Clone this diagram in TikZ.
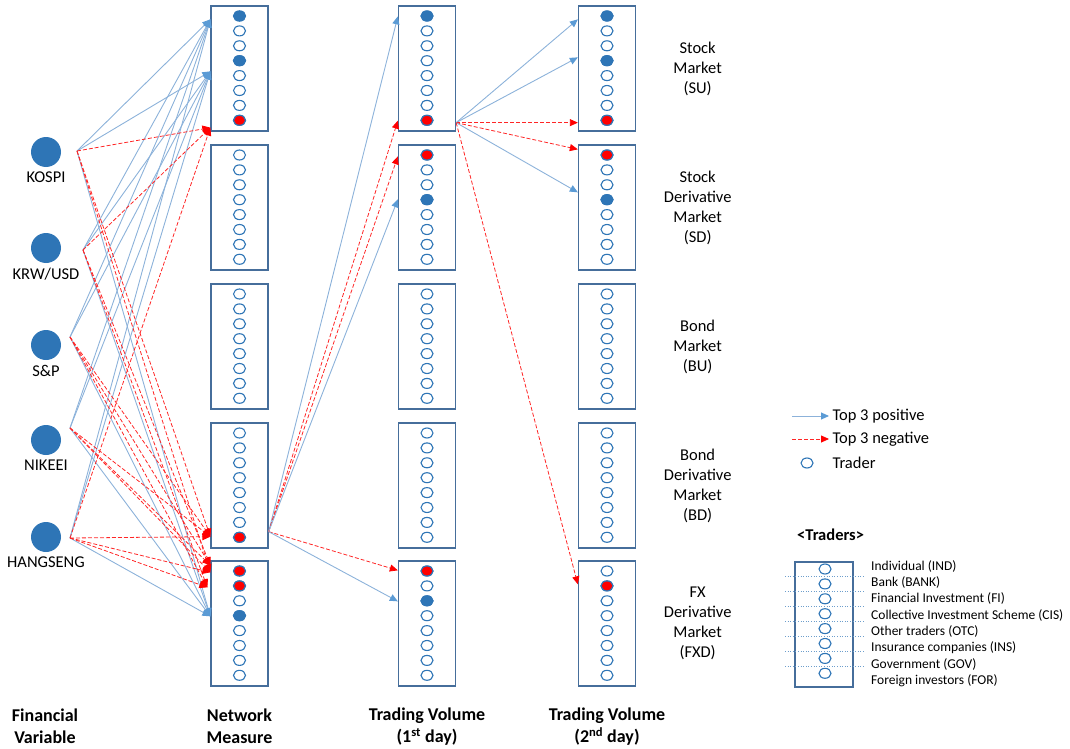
\documentclass[tikz,border=0pt]{standalone}
\usepackage{fontspec}
\setmainfont{Carlito}
\usepackage{tikz}
\usetikzlibrary{arrows.meta,positioning,calc,shapes.geometric}
\definecolor{boxline}{RGB}{70,110,155}
\definecolor{trblue}{RGB}{46,117,182}
\definecolor{posline}{RGB}{140,178,218}
\definecolor{postip}{RGB}{91,155,213}
\tikzset{
  >=Stealth,
  mbox/.style={rectangle, draw=boxline, line width=1.3pt, fill=white, minimum width=57pt, minimum height=125pt, inner sep=0pt},
  trader/.style={ellipse, draw=trblue, line width=1.1pt, fill=white, minimum width=12pt, minimum height=10pt, inner sep=0pt},
  src/.style={circle, fill=trblue, minimum size=30pt, inner sep=0pt},
  posarr/.style={draw=posline, line width=0.9pt, -{Triangle[length=8pt,width=7pt,color=postip]}},
  negarr/.style={draw=red!85, line width=0.8pt, dash pattern=on 4pt off 2pt, -{Triangle[length=8pt,width=7pt,color=red]}},
  lbl/.style={font=\fontsize{16.5}{20}\selectfont, align=center},
  blbl/.style={font=\fontsize{18}{22}\selectfont\bfseries, align=center},
  klbl/.style={font=\fontsize{13.5}{15}\selectfont, anchor=west, inner sep=0pt}
}
\begin{document}
\begin{tikzpicture}[x=1pt, y=-1pt]
    \useasboundingbox (0,0) rectangle (1070,749);

    % Market boxes with traders
    \foreach \c/\cx in {nm/239.5, d1/427, d2/607} {
        \foreach \r/\ry in {su/6, sd/145, bu/284, bd/423, fxd/561} {
            \node[mbox] (\c-\r) at (\cx, \ry+62.5) {};
            \foreach \i in {1,...,8}
                \node[trader] (\c-\r-\i) at (\cx, {\ry+10+14.9*(\i-1)}) {};
        }
    }
    \foreach \n in {nm-su-1, nm-su-4, nm-fxd-4, d1-su-1, d1-sd-4, d1-fxd-3, d2-su-1, d2-su-4, d2-sd-4}
        \node[trader, fill=trblue] (\n-on) at (\n) {};
    \foreach \n in {nm-su-8, nm-bd-8, nm-fxd-1, nm-fxd-2, d1-su-8, d1-sd-1, d1-fxd-1, d2-su-8, d2-sd-1, d2-fxd-2}
        \node[trader, fill=red] (\n-on) at (\n) {};

    % Financial variables
    \node[src] (kospi) at (46,152) {};
    \node[src] (krw) at (46,248) {};
    \node[src] (sp) at (46,345) {};
    \node[src] (nikkei) at (46,440) {};
    \node[src] (hang) at (46,537) {};
    \node[lbl, below=1pt of kospi] (kospi-l) {KOSPI};
    \node[lbl, below=1pt of krw] (krw-l) {KRW/USD};
    \node[lbl, below=1pt of sp] (sp-l) {S\&P};
    \node[lbl, below=1pt of nikkei] (nikkei-l) {NIKEEI};
    \node[lbl, below=1pt of hang] (hang-l) {HANGSENG};

    \coordinate (kospi-o) at ($(kospi.center)+(31,-1)$);
    \coordinate (krw-o) at ($(krw.center)+(37,2)$);
    \coordinate (sp-o) at ($(sp.center)+(24,-8)$);
    \coordinate (nikkei-o) at ($(nikkei.center)+(24,-12)$);
    \coordinate (hang-o) at ($(hang.center)+(24,1)$);

    % Ends on network measure
    \coordinate (t1) at ($(nm-su.north west)+(0,14)$);
    \coordinate (t2) at ($(nm-su.north west)+(0,66)$);
    \coordinate (t3) at ($(nm-su.south west)+(0,-4)$);
    \coordinate (t4) at ($(nm-bd.south west)+(0,-12)$);
    \coordinate (t5) at ($(nm-fxd.north west)+(0,5)$);
    \coordinate (t6) at ($(nm-fxd.north west)+(0,12)$);
    \coordinate (t7) at ($(nm-fxd.north west)+(-3,27)$);
    \coordinate (t8) at ($(nm-fxd.north west)+(0,56)$);

    \foreach \s in {kospi, krw, sp, nikkei, hang}
        \foreach \t in {t1, t2, t8}
            \draw[posarr] (\s-o) -- (\t);
    \foreach \s/\t in {kospi/t3, kospi/t4, kospi/t6, krw/t3, krw/t5, krw/t7, sp/t4, sp/t5, sp/t7,
                       nikkei/t4, nikkei/t5, nikkei/t6, hang/t3, hang/t4, hang/t6, hang/t7}
        \draw[negarr] (\s-o) -- (\t);

    % Network measure -> 1st day
    \coordinate (nm-o) at ($(nm-bd.south east)+(0,-17)$);
    \draw[posarr] (nm-o) -- ($(d1-su.north west)+(0,11)$);
    \draw[negarr] (nm-o) -- ($(d1-su.south west)+(0,-11)$);
    \draw[negarr] (nm-o) -- ($(d1-sd.north west)+(0,12)$);
    \draw[posarr] (nm-o) -- ($(d1-sd.north west)+(0,55)$);
    \draw[negarr] (nm-o) -- ($(d1-fxd.north west)+(0,10)$);
    \draw[posarr] (nm-o) -- ($(d1-fxd.north west)+(0,41)$);

    % 1st day -> 2nd day
    \coordinate (d1-o) at ($(d1-su.south east)+(0,-9)$);
    \draw[posarr] (d1-o) -- ($(d2-su.north west)+(0,14)$);
    \draw[posarr] (d1-o) -- ($(d2-su.north west)+(0,52)$);
    \draw[negarr] (d1-o) -- ($(d2-su.south west)+(0,-9)$);
    \draw[negarr] (d1-o) -- ($(d2-sd.north west)+(0,5)$);
    \draw[posarr] (d1-o) -- ($(d2-sd.north west)+(0,48)$);
    \draw[negarr] (d1-o) -- ($(d2-fxd.north west)+(0,24)$);

    % Market names
    \node[lbl] (su-l) at ([xshift=61.5pt]d2-su.east) {Stock\\Market\\(SU)};
    \node[lbl] (sd-l) at ([xshift=61.5pt]d2-sd.east) {Stock\\Derivative\\Market\\(SD)};
    \node[lbl] (bu-l) at ([xshift=61.5pt]d2-bu.east) {Bond\\Market\\(BU)};
    \node[lbl] (bd-l) at ([xshift=61.5pt]d2-bd.east) {Bond\\Derivative\\Market\\(BD)};
    \node[lbl] (fxd-l) at ([xshift=61.5pt]d2-fxd.east) {FX\\Derivative\\Market\\(FXD)};

    % Legend
    \node[lbl, anchor=west] (lg-pos) at (829,416) {Top 3 positive};
    \node[lbl, anchor=west] (lg-neg) at (829,439) {Top 3 negative};
    \node[lbl, anchor=west] (lg-tr) at (829,463) {Trader};
    \coordinate (lg-pa) at (792,416);
    \coordinate (lg-na) at (792,439);
    \draw[posarr] (lg-pa) -- (lg-pos.west);
    \draw[negarr] (lg-na) -- (lg-neg.west);
    \node[trader] (lg-c) at (807,463) {};

    % Trader key
    \node[lbl, font=\fontsize{16.5}{20}\selectfont\bfseries, anchor=west, inner sep=0pt] (key-t) at (797,535) {<Traders>};
    \node[mbox, fill=none, line width=1.1pt, minimum width=58pt] (key) at (824,624.5) {};
    \foreach \i in {1,...,7}
        \draw[trblue!70, dotted, line width=0.6pt] (785, {576.5+15*(\i-1)}) -- (865, {576.5+15*(\i-1)});
    \foreach \i in {1,...,8}
        \node[trader] (key-\i) at (825, {569+14.9*(\i-1)}) {};
    \foreach \i/\txt in {1/Individual (IND), 2/Bank (BANK), 3/Financial Investment (FI),
                         4/Collective Investment Scheme (CIS), 5/Other traders (OTC),
                         6/Insurance companies (INS), 7/Government (GOV), 8/Foreign investors (FOR)}
        \node[klbl] (key-l\i) at (871, {566+16.4*(\i-1)}) {\txt};

    % Column captions
    \node[blbl] (cap-fv) at (45,726) {Financial\\Variable};
    \node[blbl] (cap-nm) at ($(nm-fxd.south)+(0,40)$) {Network\\Measure};
    \node[blbl] (cap-d1) at ($(d1-fxd.south)+(0,40)$) {Trading Volume\\(1\textsuperscript{st} day)};
    \node[blbl] (cap-d2) at ($(d2-fxd.south)+(0,40)$) {Trading Volume\\(2\textsuperscript{nd} day)};
\end{tikzpicture}
\end{document}
